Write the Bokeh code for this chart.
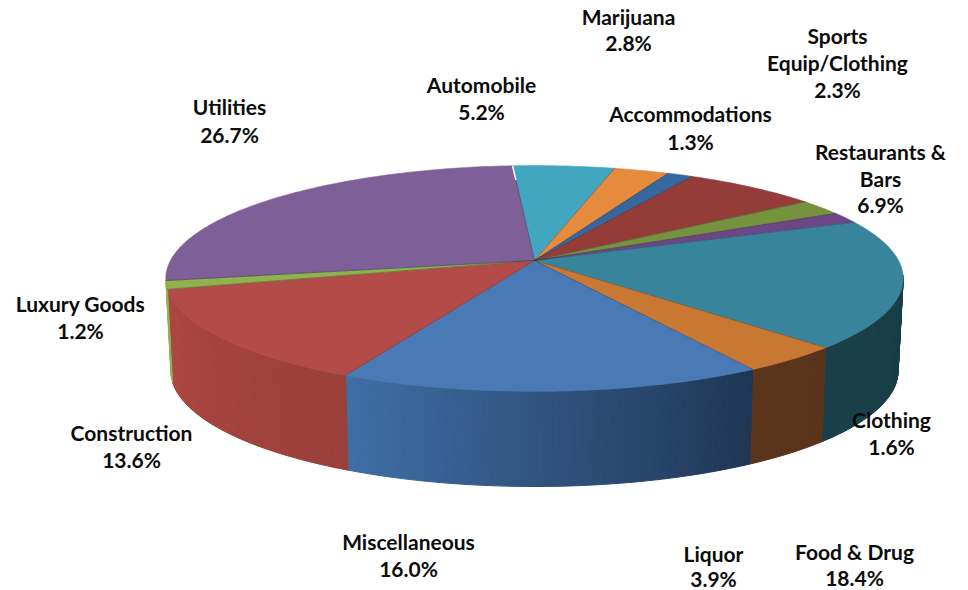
import numpy as np
from bokeh.plotting import figure
from bokeh.models import Range1d
from bokeh.core.properties import value
from bokeh.embed import file_html
from bokeh.resources import INLINE

# ---- data -----------------------------------------------------------
categories = ["Automobile", "Marijuana", "Accommodations", "Restaurants & Bars",
              "Sports Equip/Clothing", "Clothing", "Food & Drug", "Liquor",
              "Miscellaneous", "Construction", "Luxury Goods", "Utilities"]
shares = [5.2, 2.8, 1.3, 6.9, 2.3, 1.6, 18.4, 3.9, 16.0, 13.6, 1.2, 26.7]

# ---- styles ---------------------------------------------------------
top_colors = ["#43a6c1", "#e68a3e", "#36679f", "#943c38", "#76923f", "#6b4785",
              "#39849d", "#c97834", "#4a7ab5", "#b34c49", "#8fb24f", "#7e5f97"]
side_start = ["#2c6f82", "#9c5c28", "#24456b", "#642826", "#4f632a", "#482f5a",
              "#17393f", "#58331a", "#1f3554", "#9a3f3a", "#8fb24f", "#5a4270"]
side_end = ["#2c6f82", "#9c5c28", "#24456b", "#642826", "#4f632a", "#482f5a",
            "#19404a", "#5a351b", "#3f6fa6", "#ad4741", "#8fb24f", "#5a4270"]

# label lines, one entry per slice, with their anchor (centre x, centre y per line)
label_lines = [["Automobile", "5.2%"], ["Marijuana", "2.8%"], ["Accommodations", "1.3%"],
               ["Restaurants &", "Bars", "6.9%"], ["Sports", "Equip/Clothing", "2.3%"],
               ["Clothing", "1.6%"], ["Food & Drug", "18.4%"], ["Liquor", "3.9%"],
               ["Miscellaneous", "16.0%"], ["Construction", "13.6%"],
               ["Luxury Goods", "1.2%"], ["Utilities", "26.7%"]]
label_x = [481, 628, 690, 880, 837, 891, 854, 713, 408, 131, 80, 229]
label_y = [[84, 111], [16, 42], [113, 141], [151, 178, 204], [35, 62, 89], [419, 446],
           [551, 577], [553, 578], [541, 568], [432, 459], [303, 330], [106, 134]]

# ---- projection of the pie disc --------------------------------------
CX, CY, K = 534.0, 260.0, 0.159
A_TOP, B_TOP = 364.0, 110.0
A_BOT, B_BOT, CY_BOT = 359.0, 112.7, 352.0
START_DEG = -4.0


def project(theta, a, b, cy):
    u, v = np.sin(theta), np.cos(theta)
    d = 1 + K * v
    return CX + a * u / d, cy - b * v / d


def lerp(c1, c2, t):
    r1 = np.array([int(c1[i:i + 2], 16) for i in (1, 3, 5)])
    r2 = np.array([int(c2[i:i + 2], 16) for i in (1, 3, 5)])
    r = (r1 + (r2 - r1) * t).round().astype(int)
    return "#%02x%02x%02x" % tuple(r)


cum = np.concatenate([[0], np.cumsum(shares)]) / np.sum(shares)
edges = np.radians(START_DEG + 360 * cum)

p = figure(width=968, height=590, output_backend="svg", toolbar_location=None,
           x_range=Range1d(0, 968), y_range=Range1d(590, 0),
           min_border=0, outline_line_color=None, background_fill_color="white")
p.axis.visible = False
p.grid.visible = False

# side wall, only the part seen from the front (Utilities lies behind the tangent point)
side_x, side_y, side_c = [], [], []
for i in range(len(shares)):
    if categories[i] == "Utilities":
        continue
    n = max(2, int(np.degrees(edges[i + 1] - edges[i]) / 1.0))
    th = np.linspace(edges[i], edges[i + 1], n + 1)
    for j in range(n):
        mid = (th[j] + th[j + 1]) / 2
        if np.cos(mid) > -K + 0.02:
            continue
        t0, t1 = th[j], th[j + 1]
        xt, yt = project(np.array([t0, t1]), A_TOP, B_TOP, CY)
        xb, yb = project(np.array([t1, t0]), A_BOT, B_BOT, CY_BOT)
        side_x.append(list(xt) + list(xb))
        side_y.append(list(yt) + list(yb))
        side_c.append(lerp(side_start[i], side_end[i], (j + 0.5) / n))
p.patches(side_x, side_y, fill_color=side_c, line_color=side_c, line_width=1)

# top face
top_x, top_y = [], []
for i in range(len(shares)):
    th = np.linspace(edges[i], edges[i + 1], max(3, int(np.degrees(edges[i + 1] - edges[i]))))
    x, y = project(th, A_TOP, B_TOP, CY)
    top_x.append([CX] + list(x))
    top_y.append([CY] + list(y))
p.patches(top_x, top_y, fill_color=top_colors, line_color=top_colors, line_width=0.6)

# thin dark seams between the slices
seam_x, seam_y = [], []
for e in edges[:-1]:
    x, y = project(np.array([e]), A_TOP, B_TOP, CY)
    seam_x.append([CX, x[0]])
    seam_y.append([CY, y[0]])
p.multi_line(seam_x, seam_y, line_color="#2b2b2b", line_alpha=0.35, line_width=1)

# the small white notch at the rim, where Utilities meets Automobile
nx, ny = project(np.array([edges[0]]), A_TOP, B_TOP, CY)
p.line([CX + (nx[0] - CX) * 0.85, nx[0]], [CY + (ny[0] - CY) * 0.85, ny[0]],
       line_color="white", line_width=1.5)

# labels
tx, ty, tt = [], [], []
for lines, x0, ys in zip(label_lines, label_x, label_y):
    for line, y0 in zip(lines, ys):
        tx.append(x0)
        ty.append(y0)
        tt.append(line)
p.text(tx, ty, text=tt, text_font=value("Lato"), text_font_style="bold",
       text_font_size="21px", text_align="center", text_baseline="middle",
       text_color="#0c0c0c")

open("out.html", "w").write(file_html(p, INLINE))
